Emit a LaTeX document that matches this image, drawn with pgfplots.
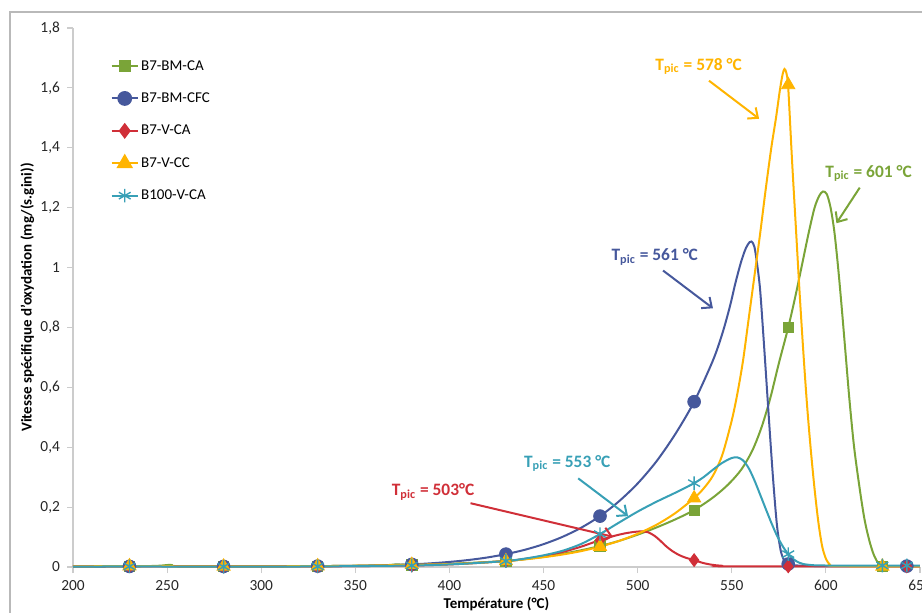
\documentclass[border=0pt]{standalone}
\usepackage{pgfplots}
\pgfplotsset{compat=1.18}
\usepackage{fontspec}
\setmainfont{Carlito}
\usetikzlibrary{arrows.meta}
\definecolor{cgreen}{RGB}{122,164,56}
\definecolor{cblue}{RGB}{70,88,156}
\definecolor{cred}{RGB}{208,47,56}
\definecolor{corange}{RGB}{255,180,0}
\definecolor{ccyan}{RGB}{56,160,182}
\begin{document}
\begin{tikzpicture}
\useasboundingbox (-36.5pt,-22.5pt) rectangle (424.5pt,283.5pt);
\draw[gray!55, line width=0.6pt] (-31.5pt,-60pt) rectangle (460pt,277.5pt);
\begin{axis}[
  at={(0pt,0pt)}, anchor=south west,
  scale only axis, width=423.5pt, height=269.5pt,
  xmin=200, xmax=650, ymin=0, ymax=1.8,
  axis x line*=bottom, axis y line*=left,
  axis line style={draw=gray!40, line width=0.8pt},
  xtick={200,250,300,350,400,450,500,550,600,650},
  ytick={0,0.2,0.4,0.6,0.8,1,1.2,1.4,1.6,1.8},
  tick align=outside, major tick length=3pt,
  tick style={draw=gray!40, line width=0.6pt},
  yticklabel style={/pgf/number format/.cd, use comma, fixed, precision=1, assume math mode=true},
  xticklabel style={/pgf/number format/.cd, set thousands separator={}, assume math mode=true},
  tick label style={font=\fontsize{7.7}{9}\selectfont, text=black!85},
  xlabel={Température (°C)},
  ylabel={Vitesse spécifique d'oxydation (mg/(s.gini))},
  label style={font=\fontsize{7.5}{9}\selectfont\bfseries},
  xlabel style={at={(axis description cs:0.5,-0.069)}, anchor=center},
  ylabel style={at={(axis description cs:-0.054,0.5)}, anchor=center},
  clip=false,
  legend style={at={(axis description cs:0.037,0.955)}, anchor=north west, draw=none, fill=none,
    font=\fontsize{7.5}{9}\selectfont, row sep=6.8pt,
    nodes={inner sep=1.2pt, text height=5.5pt, text depth=1.5pt}},
  legend cell align=left,
  legend image code/.code={\draw[mark repeat=2,mark phase=2,#1] plot coordinates {(0pt,0pt) (6.5pt,0pt) (13pt,0pt)};},
]
% ---------- curves ----------
\addplot[cgreen, line width=1pt, smooth, tension=0.5, forget plot] table {
200 0.002
230 0.002
245 0.004
252 0.007
260 0.002
330 0.003
365 0.006
372 0.009
380 0.007
405 0.012
430 0.02
440 0.026
450 0.034
460 0.044
470 0.056
480 0.07
490 0.087
500 0.108
510 0.132
520 0.159
530 0.19
540 0.232
548 0.275
555 0.325
561 0.39
566 0.47
570.5 0.565
575 0.68
580 0.80
584 0.91
588 1.03
591 1.12
594 1.20
596.5 1.24
598.5 1.254
600.5 1.245
602.5 1.20
604.5 1.12
606.5 1.00
608.5 0.86
610.5 0.71
612.5 0.56
615 0.40
618 0.26
620.5 0.16
623 0.09
625.5 0.04
628 0.012
631 0.004
640 0.003
650 0.003
};
\addplot[cblue, line width=1pt, smooth, tension=0.5, forget plot] table {
200 0.001
230 0.002
280 0.002
330 0.003
360 0.005
380 0.0088
390 0.0123
400 0.017
410 0.0233
420 0.0317
430 0.043
440 0.0574
450 0.0763
460 0.1005
470 0.1313
480 0.17
490 0.219
500 0.279
510 0.353
520 0.444
530 0.552
540 0.69
545 0.78
549 0.87
552 0.95
555 1.02
557.5 1.065
559.5 1.085
560.5 1.087
562 1.07
563.5 1.01
565 0.93
566.5 0.80
568 0.66
570 0.47
572 0.29
574 0.14
576 0.055
578 0.02
580 0.01
585 0.005
600 0.003
650 0.003
};
\addplot[cred, line width=1pt, smooth, tension=0.5, forget plot] table {
200 0.002
230 0.003
280 0.002
330 0.002
380 0.005
405 0.01
430 0.02
440 0.027
450 0.037
460 0.05
470 0.068
480 0.09
487 0.103
493 0.112
498 0.117
502 0.119
505.5 0.116
509 0.104
512 0.088
515 0.07
518 0.055
522 0.04
526 0.03
530 0.023
535 0.013
540 0.007
545 0.004
550 0.002
650 0.002
};
\addplot[corange, line width=1pt, smooth, tension=0.5, forget plot] table {
200 0.002
230 0.003
280 0.002
330 0.003
360 0.005
380 0.0075
400 0.0097
410 0.0123
420 0.0157
430 0.02
440 0.0255
450 0.0326
460 0.0416
470 0.0531
480 0.068
490 0.0868
500 0.111
510 0.141
520 0.180
530 0.230
535 0.262
540 0.305
545 0.375
550 0.49
553 0.58
556 0.69
559 0.83
562 0.97
565 1.11
568 1.26
571 1.40
573.5 1.50
575.5 1.59
577 1.645
578 1.663
579 1.65
580 1.60
582 1.36
584 1.14
586 0.92
588 0.72
590 0.54
592 0.39
594 0.26
596 0.15
598 0.07
600 0.028
602 0.009
605 0.003
650 0.002
};
\addplot[ccyan, line width=1pt, smooth, tension=0.5, forget plot] table {
200 0.001
230 0.002
280 0.001
330 0.002
380 0.005
405 0.01
430 0.02
440 0.028
450 0.039
460 0.054
470 0.077
480 0.11
490 0.148
500 0.185
510 0.218
520 0.248
530 0.28
535 0.30
540 0.325
545 0.348
550 0.364
553 0.366
556 0.356
559 0.33
562 0.29
565 0.243
568 0.195
571 0.148
574 0.105
577 0.07
580 0.043
583 0.025
586 0.014
590 0.008
600 0.005
650 0.005
};
% ---------- markers ----------
\addplot[only marks, mark=square*, mark size=2.6pt, color=cgreen, forget plot] table {
230 0.002
280 0.002
330 0.003
380 0.007
430 0.02
480 0.07
530 0.19
580 0.80
630 0.003
};
\addplot[only marks, mark=*, mark size=3.2pt, color=cblue, forget plot] table {
230 0.002
280 0.002
330 0.003
380 0.0088
430 0.043
480 0.17
530 0.552
580 0.01
643 0.003
};
\addplot[only marks, mark=diamond*, mark size=3.2pt, color=cred, forget plot] table {
230 0.003
280 0.002
330 0.002
380 0.005
430 0.02
480 0.09
530 0.023
580 0.002
643 0.002
};
\addplot[only marks, mark=triangle*, mark size=3.8pt, color=corange, forget plot] table {
230 0.003
280 0.002
330 0.003
380 0.0075
430 0.02
480 0.068
530 0.23
580 1.61
630 0.002
};
\addplot[only marks, mark=asterisk, mark size=3.4pt, color=ccyan, mark options={line width=0.7pt}, forget plot] table {
230 0.002
280 0.001
330 0.002
380 0.005
430 0.02
480 0.11
530 0.28
580 0.043
630 0.005
643 0.005
};
% ---------- legend ----------
\addlegendimage{cgreen, line width=1pt, mark=square*, mark size=2.6pt}
\addlegendentry{B7-BM-CA}
\addlegendimage{cblue, line width=1pt, mark=*, mark size=3.2pt}
\addlegendentry{B7-BM-CFC}
\addlegendimage{cred, line width=1pt, mark=diamond*, mark size=3.2pt}
\addlegendentry{B7-V-CA}
\addlegendimage{corange, line width=1pt, mark=triangle*, mark size=3.8pt}
\addlegendentry{B7-V-CC}
\addlegendimage{ccyan, line width=1pt, mark=asterisk, mark size=3.4pt, mark options={line width=0.7pt}}
\addlegendentry{B100-V-CA}
% ---------- annotations ----------
\tikzset{ann/.style={font=\fontsize{8.7}{10}\selectfont\bfseries}, arr/.style={line width=1pt, -{Straight Barb[length=4pt,width=7pt]}}}
\node[ann, text=corange] at (axis cs:532.4,1.671) {T\textsubscript{pic} = 578 °C};
\draw[arr, corange] (axis cs:537.9,1.624) -- (axis cs:564.5,1.497);
\node[ann, text=cgreen] at (axis cs:622.7,1.315) {T\textsubscript{pic} = 601 °C};
\draw[arr, cgreen] (axis cs:618,1.267) -- (axis cs:605.6,1.148);
\node[ann, text=cblue] at (axis cs:509.1,1.036) {T\textsubscript{pic} = 561 °C};
\draw[arr, cblue] (axis cs:513.5,0.99) -- (axis cs:540,0.864);
\node[ann, text=ccyan] at (axis cs:462.6,0.346) {T\textsubscript{pic} = 553 °C};
\draw[arr, ccyan] (axis cs:468.4,0.296) -- (axis cs:494.9,0.170);
\node[ann, text=cred] at (axis cs:391.3,0.251) {T\textsubscript{pic} = 503°C};
\draw[arr, cred] (axis cs:411.2,0.213) -- (axis cs:486.9,0.101);
\end{axis}
\end{tikzpicture}
\end{document}
